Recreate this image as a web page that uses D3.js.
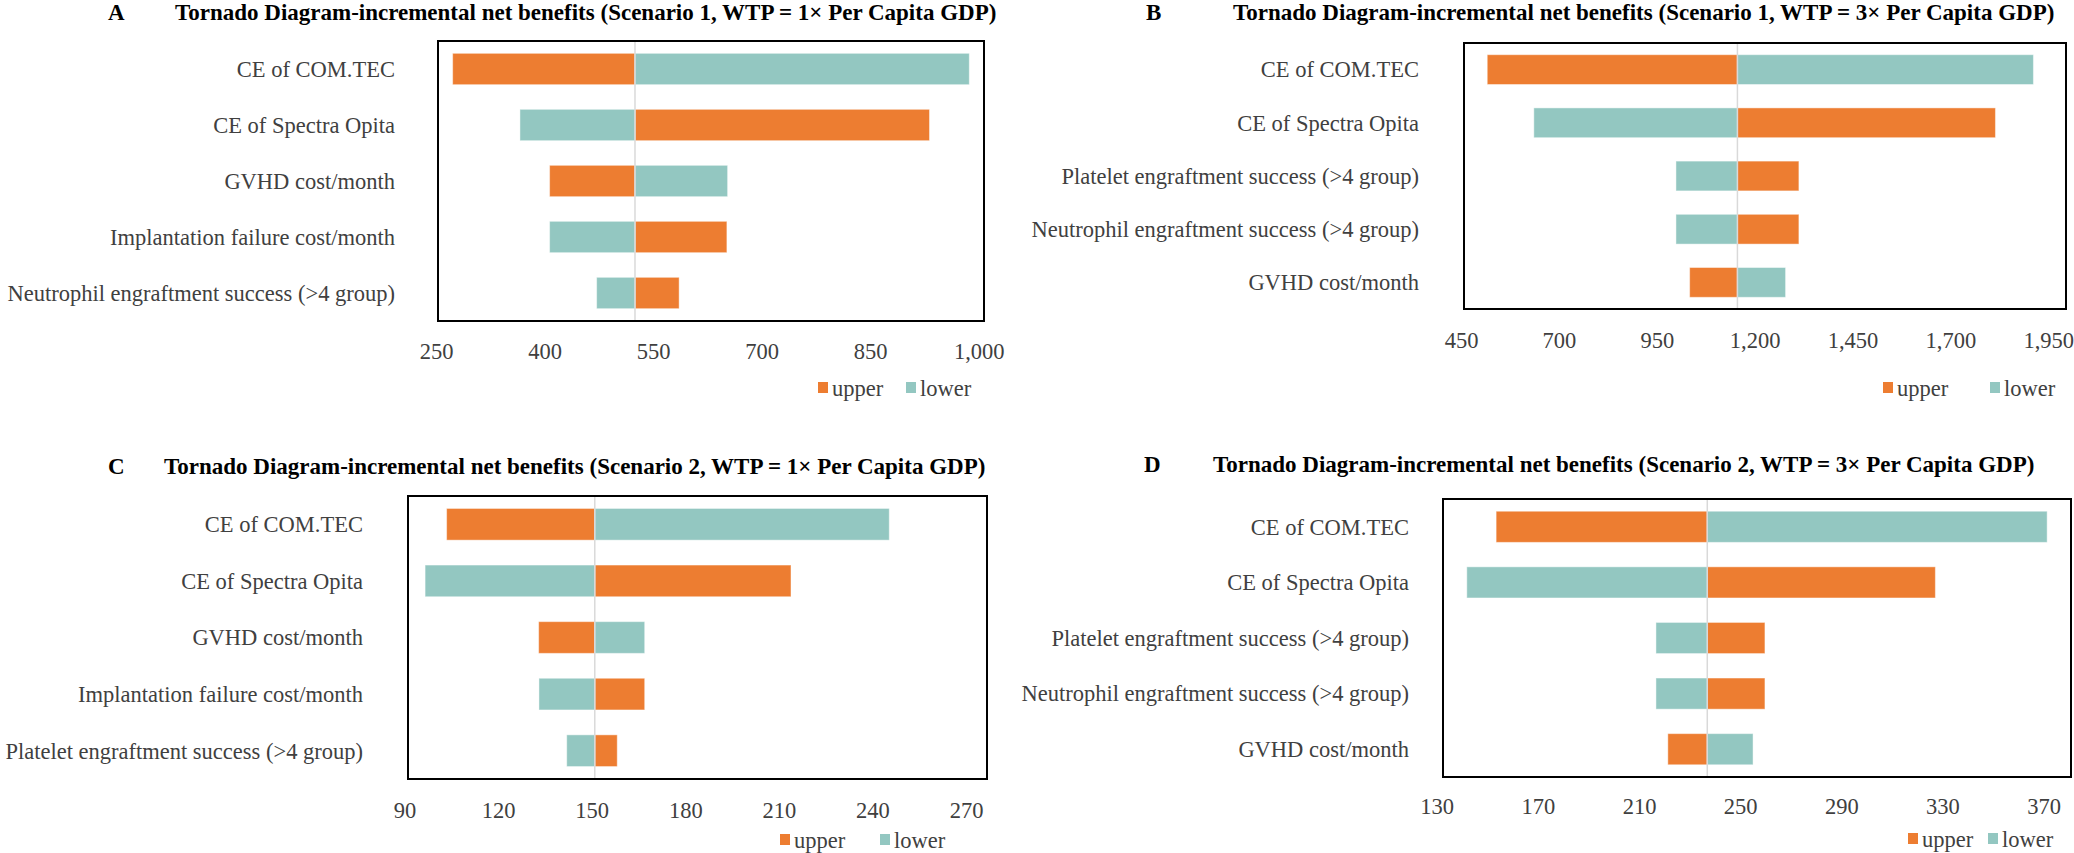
<!DOCTYPE html>
<html>
<head>
<meta charset="utf-8">
<script src="https://cdn.jsdelivr.net/npm/d3@7"></script>
<style>
  body { margin: 0; background: #fff; }
  svg { display: block; }
  text { font-family: 'Liberation Serif', 'Times New Roman', serif; }
</style>
</head>
<body>
<script>
const labelsA = ['CE of COM.TEC', 'CE of Spectra Opita', 'GVHD cost/month', 'Implantation failure cost/month', 'Neutrophil engraftment success (>4 group)']
const upperA = [273, 932, 407, 652, 586]
const lowerA = [987, 366, 653, 407, 472]
const baseA = 525
const ticksA = [250, 400, 550, 700, 850, 1000]

const labelsB = ['CE of COM.TEC', 'CE of Spectra Opita', 'Platelet engraftment success (>4 group)', 'Neutrophil engraftment success (>4 group)', 'GVHD cost/month']
const upperB = [517, 1815, 1313, 1313, 1034]
const lowerB = [1912, 636, 999, 999, 1279]
const baseB = 1156
const ticksB = [450, 700, 950, 1200, 1450, 1700, 1950]

const labelsC = ['CE of COM.TEC', 'CE of Spectra Opita', 'GVHD cost/month', 'Implantation failure cost/month', 'Platelet engraftment success (>4 group)']
const upperC = [103.5, 213.9, 133, 167, 158.2]
const lowerC = [245.4, 96.6, 167, 133.1, 142]
const baseC = 151
const ticksC = [90, 120, 150, 180, 210, 240, 270]

const labelsD = ['CE of COM.TEC', 'CE of Spectra Opita', 'Platelet engraftment success (>4 group)', 'Neutrophil engraftment success (>4 group)', 'GVHD cost/month']
const upperD = [153.5, 327.2, 259.8, 259.8, 221.4]
const lowerD = [371.4, 141.9, 216.7, 216.7, 255.1]
const baseD = 237
const ticksD = [130, 170, 210, 250, 290, 330, 370]

const titles = [
  'Tornado Diagram-incremental net benefits (Scenario 1, WTP = 1\u00d7 Per Capita GDP)',
  'Tornado Diagram-incremental net benefits (Scenario 1, WTP = 3\u00d7 Per Capita GDP)',
  'Tornado Diagram-incremental net benefits (Scenario 2, WTP = 1\u00d7 Per Capita GDP)',
  'Tornado Diagram-incremental net benefits (Scenario 2, WTP = 3\u00d7 Per Capita GDP)'
]
const letters = ['A', 'B', 'C', 'D']

const colors = { upper: '#ED7D31', lower: '#93C7C1' }

const panels = [
  { labels: labelsA, upper: upperA, lower: lowerA, base: baseA, ticks: ticksA,
    letterX: 108, titleX: 175, titleY: 20, box: [438, 41, 984, 321], tickPx: [436, 978.7], tickY: 348, legendY: 388, legendX: [818, 906], labelX: 395 },
  { labels: labelsB, upper: upperB, lower: lowerB, base: baseB, ticks: ticksB,
    letterX: 1146, titleX: 1233, titleY: 20, box: [1464, 43, 2066, 309], tickPx: [1461, 2048.3], tickY: 337, legendY: 388, legendX: [1883, 1990], labelX: 1419 },
  { labels: labelsC, upper: upperC, lower: lowerC, base: baseC, ticks: ticksC,
    letterX: 108, titleX: 164, titleY: 474, box: [408, 496, 987, 779], tickPx: [404.5, 966], tickY: 807, legendY: 840, legendX: [780, 880], labelX: 363 },
  { labels: labelsD, upper: upperD, lower: lowerD, base: baseD, ticks: ticksD,
    letterX: 1144, titleX: 1213, titleY: 472, box: [1443, 499, 2071, 777], tickPx: [1436.7, 2043.6], tickY: 803, legendY: 839, legendX: [1908, 1988], labelX: 1409 }
]

const fontSize = 22.5

const svg = d3.select('body').append('svg').attr('width', 2074).attr('height', 853)

panels.forEach((p, k) => {
  const g = svg.append('g').classed('panel', true)
  const [x0, y0, x1, y1] = p.box

  const x = d3.scaleLinear()
    .domain([p.ticks[0], p.ticks[p.ticks.length - 1]])
    .range(p.tickPx)
  const y = d3.scaleBand().domain(p.labels).range([y0, y1]).paddingInner(0.44).paddingOuter(0.22)

  g.append('text').attr('x', p.letterX).attr('y', p.titleY)
    .attr('font-size', 23).attr('font-weight', 'bold').text(letters[k])
  g.append('text').attr('x', p.titleX).attr('y', p.titleY)
    .attr('font-size', 23).attr('font-weight', 'bold').text(titles[k])

  const rows = p.labels.map((l, i) => ({ label: l, upper: p.upper[i], lower: p.lower[i] }))

  const bars = g.append('g').classed('bars', true)
  ;['upper', 'lower'].forEach(key => {
    bars.selectAll('rect.' + key)
      .data(rows)
      .enter()
      .append('rect')
      .attr('class', key)
      .attr('x', d => Math.min(x(d[key]), x(p.base)))
      .attr('width', d => Math.abs(x(d[key]) - x(p.base)))
      .attr('y', d => y(d.label))
      .attr('height', y.bandwidth())
      .attr('fill', colors[key])
      .attr('stroke', '#fff')
      .attr('stroke-opacity', 0.45)
      .attr('stroke-width', 1)
  })

  g.append('line')
    .attr('x1', x(p.base)).attr('x2', x(p.base))
    .attr('y1', y0).attr('y2', y1)
    .attr('stroke', '#d9d9d9').attr('stroke-width', 1.5)

  g.append('rect')
    .attr('x', x0).attr('y', y0)
    .attr('width', x1 - x0).attr('height', y1 - y0)
    .attr('fill', 'none').attr('stroke', '#000').attr('stroke-width', 2)

  g.append('g').selectAll('text')
    .data(rows)
    .enter()
    .append('text')
    .attr('x', p.labelX)
    .attr('y', d => y(d.label) + y.bandwidth() / 2)
    .attr('dy', '0.35em')
    .attr('text-anchor', 'end')
    .attr('font-size', fontSize)
    .attr('fill', '#404040')
    .text(d => d.label)

  const axis = d3.axisBottom(x).tickValues(p.ticks).tickFormat(d3.format(',')).tickSize(0)
  const ax = g.append('g').attr('transform', `translate(0,${p.tickY - 8})`).call(axis)
  ax.select('.domain').remove()
  ax.selectAll('text')
    .attr('font-family', "'Liberation Serif', 'Times New Roman', serif")
    .attr('font-size', fontSize)
    .attr('fill', '#404040')

  const legend = g.append('g').classed('legend', true)
  ;['upper', 'lower'].forEach((key, i) => {
    legend.append('rect')
      .attr('x', p.legendX[i]).attr('y', p.legendY - 6)
      .attr('width', 10).attr('height', 11)
      .attr('fill', colors[key])
    legend.append('text')
      .attr('x', p.legendX[i] + 14).attr('y', p.legendY)
      .attr('dy', '0.35em')
      .attr('font-size', fontSize)
      .attr('fill', '#404040')
      .text(key)
  })
})
</script>
</body>
</html>
